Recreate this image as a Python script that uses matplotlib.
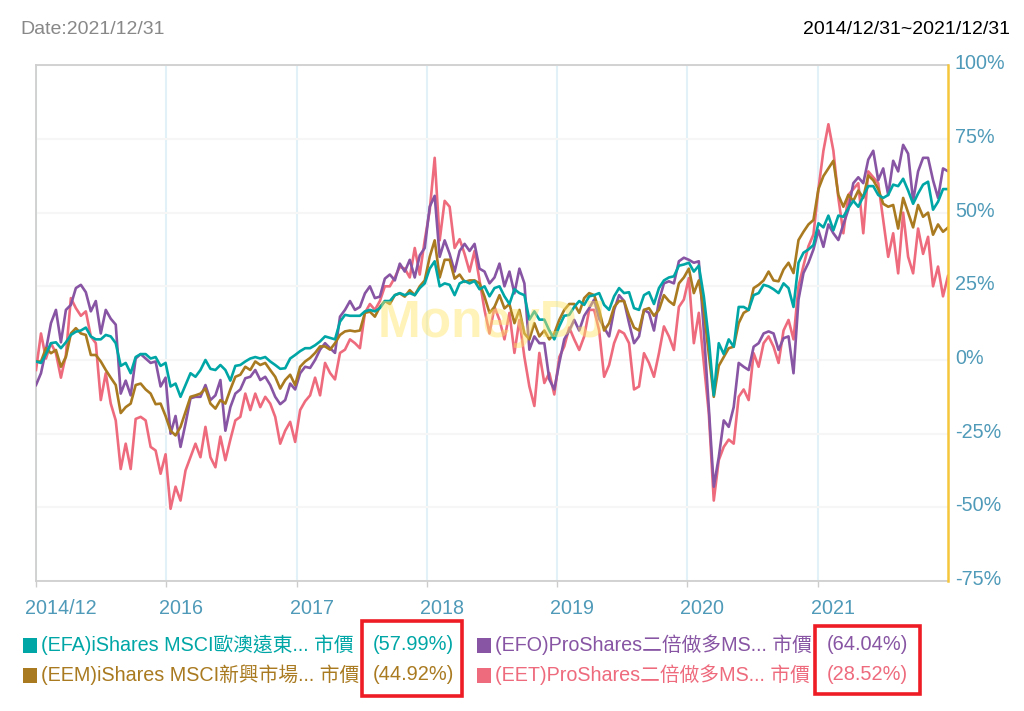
import matplotlib
matplotlib.use("Agg")
import matplotlib.pyplot as plt
from matplotlib import patches
from matplotlib.transforms import ScaledTranslation
import pandas as pd

plt.rcParams['font.family'] = ['Liberation Sans', 'Noto Sans CJK TC', 'DejaVu Sans']

START_DATE = "2014-12-31"
END_DATE = "2021-12-31"

# cumulative return in % at even time steps
efa_values = [
    -0.5, -1, 2, 5.7, 6, 4, 6, 8.5, 9.6, 10, 11, 8, 7, 7, 8.5, 8, 5.7, -2, -1, -4.5,
    1, 2, 2, 0.5, 1, -2, -1, -9, -8, -12.5, -8.5, -4.5, -5.7, -3.4, 0, -3, -3.4, -1.7, -3.4, -7,
    -2, -1.7, -0.5, 0.5, 1, 0.5, 1, -0.5, -1.7, -3, -2.8, 0.5, 1.7, 3, 4,
    4, 5, 6.3, 8, 7.5, 7, 13, 15.3, 15, 15, 15, 16.5, 17, 16.5, 17.6, 20, 20, 22, 22.7, 22,
    22.7, 22, 24.4, 26, 31, 33.5, 25, 26, 25.5, 22, 26, 26.8, 26, 26.8, 24, 25, 21.6, 24.4, 25, 21.6,
    19, 24, 22.7, 22, 13.7, 16.5, 13.7, 13.7, 10, 7, 11.4, 15, 15.3, 18,
    20, 18.7, 21.6, 22, 22.7, 18.7, 17, 21.6, 24.4, 22.7, 23, 17.6, 17, 22, 23, 19, 24.4, 27, 28, 28.4,
    32, 32.4, 33, 30, 32, 21.6, 7, -12, 5.7, 2, 7, 4.5, 18, 18, 17, 22, 22.7, 25.5, 25, 24,
    22.7, 26, 24.4, 18, 33, 36.4, 37.5, 39,
    46.4, 45, 49, 44, 49, 48.6, 51.5, 54, 52, 55.5, 59, 59, 56, 55, 56, 59.5, 59, 61.5, 57.5, 53,
    56.5, 59.5, 60.5, 51, 53.7, 58, 57.99,
]
eem_values = [
    -0.5, -0.5, 4, 2.3, 3.4, -2.3, 1, 9, 10.8, 9, 8.5, 1.7, 1.7, -0.5, -3.4, -6, -8.5, -18, -16, -14.8,
    -8.5, -8, -10, -11.4, -15, -14.8, -19, -24, -25.6, -22.7, -17.6, -12.5, -12, -11.4, -9.7, -14.8, -16.5, -13.6, -14.8, -10,
    -5.7, -5, -2.3, -3.4, -0.5, -1.7, -1, -3.4, -5.7, -9.7, -6.8, -5, -8.5, -2.3, -0.5,
    0.7, 2.4, 4.6, 4.6, 3.5, 5.7, 8.5, 9.7, 10, 9.7, 10, 16, 16.4, 14.7, 18, 20, 19, 22, 22.6, 21.5,
    23.7, 22, 25, 27, 35, 40.6, 28, 34, 34, 27.6, 29, 26.5, 27, 27, 26, 21.5, 16, 18, 22, 17.5,
    19, 12.5, 17, 9, 7, 12.5, 8, 10, 7, 9, 13.6, 17, 19, 19,
    16, 21, 22.7, 22, 17, 10, 12.5, 18, 20, 20, 15, 11, 10, 17, 17.6, 15, 17, 22, 20, 18.7,
    26, 28, 31, 22.7, 27, 17, 2, -12.5, -2, 1, 4, 4.5, 12.5, 16, 17, 24.4, 25.5, 27, 30, 27,
    26.7, 30.7, 33, 29.5, 40.7, 43.5, 46, 47.5,
    58, 62.4, 65, 67.6, 56, 52, 56, 54, 57.5, 55, 62.6, 61, 58, 53, 52, 52.6, 44.6, 55, 50, 45,
    52.6, 48.6, 50, 42.5, 46, 43.5, 44.92,
]
efo_values = [
    -8.5, -4.5, 3.4, 12.5, 17, 6, 17, 18.7, 24.4, 25.5, 23, 16.5, 20, 9, 17, 14, 12, -11.4, -7, -12,
    0.5, 2, 0.5, -1, -0.5, -9, -6, -25, -19, -29.5, -21.6, -13, -12.5, -12.5, -8.5, -13.6, -12, -6.8, -24, -16,
    -11.4, -10, -6.2, -5.7, -3.4, -6.8, -5.7, -8.5, -12.5, -15, -13.6, -8, -10, -4.5, -2.3,
    -2.7, 0, 3.5, 5.7, 4, 2.4, 14.7, 17, 20, 17, 18, 22.6, 25, 21, 21.5, 27.6, 29, 27, 32.7, 30,
    34, 28, 35.5, 38, 52, 55.7, 35, 40.6, 36, 30, 37, 39.4, 37, 39.4, 31, 30, 26, 28, 32.7, 25,
    30, 22.6, 31, 26, 3.5, 8, 5.7, 5.7, -6.6, -10, -1, 7, 10, 13.6,
    10, 15, 17.6, 20.5, 14, 11, 8, 17, 22, 20, 12.5, 5.7, 8, 17, 16, 10, 20, 26, 26.7, 26,
    33.5, 34.7, 34, 33, 33.5, 10, -16, -43, -33, -20.5, -22.7, -16, -1, -2.3, -3.4, 4.5, 5.7, 9, 9.7, 9,
    3.4, 7.4, 8, -4.5, 20.5, 29.5, 33, 37.5,
    44, 38.4, 46, 43, 40.7, 46, 51, 60, 62, 60, 68, 71, 61, 65, 56, 67.6, 64, 73, 70, 54,
    64, 68.6, 68.6, 61, 55, 65, 64.04,
]
eet_values = [
    -3.4, 9, 0.5, 5.7, 2.3, -6, 1.7, 21, 17.6, 15, 16.5, 8, 5.7, -13.6, -4.5, -14.8, -20.5, -37, -28.4, -37,
    -20, -19.3, -20.5, -29.5, -30.7, -38.6, -32, -50.5, -43, -47.7, -37.5, -33, -28.4, -33, -22.7, -33, -36.4, -26, -34, -27,
    -20.5, -19.3, -11.4, -17, -11.4, -16, -12.5, -14.8, -19.3, -28.4, -24, -21, -27.8, -17, -14,
    -12, -6, -12, -1, -4.4, -6.6, 2.4, 3.5, 7, 5.7, 4, 16, 19, 17, 20, 25, 25, 28, 31.6, 31,
    28, 38, 29, 40.6, 50.7, 68.6, 40.6, 54, 52, 38, 41, 36, 30, 37, 27, 17, 9, 18, 13.6, 7,
    16, 2.4, 13.6, 1, -9, -15.6, 2.4, -7.8, -4.4, -11.7, 1, 4.6, 11, 7,
    3.4, 8, 17, 17, 10, -5.7, -1.7, 5.7, 10, 9, 5.7, -10, -9, 2.3, -1, -5.7, 2.3, 11.4, 8, 3.4,
    18, 20.5, 27.8, 5.7, 16, -1, -18, -47.7, -34, -29.5, -27, -28.4, -12.5, -10, -13.6, 2.3, -2.3, 5.7, 8, 4.5,
    -1, 10, 13.6, 7, 25, 32, 38.6, 42.6,
    58, 71, 80, 71, 55, 43, 56, 58, 60, 43, 64, 62, 60, 47.5, 35, 43, 29.4, 50, 35, 29.4,
    44.6, 36, 41.8, 25, 31.7, 21.6, 28.52,
]

series_names = [
    "(EFA)iShares MSCI歐澳遠東... 市價",
    "(EEM)iShares MSCI新興市場... 市價",
    "(EFO)ProShares二倍做多MS... 市價",
    "(EET)ProShares二倍做多MS... 市價",
]
series_returns = ["(57.99%)", "(44.92%)", "(64.04%)", "(28.52%)"]
year_ticks = ["2015-12-31", "2016-12-31", "2017-12-31", "2018-12-31", "2019-12-31", "2020-12-31"]
year_labels = ["2016", "2017", "2018", "2019", "2020", "2021"]
y_ticks = [-75, -50, -25, 0, 25, 50, 75, 100]

TEAL = "#00a6a6"
BROWN = "#a97a20"
PURPLE = "#8755a3"
PINK = "#ee6b7d"
AXIS_TEXT = "#4f9ab8"

W, H = 1024, 711


def px_x(x):
    return x / W


def px_y(y):
    return 1 - y / H


fig = plt.figure(figsize=(W / 100, H / 100), dpi=100)
ax = fig.add_axes([px_x(36), px_y(581), (948 - 36) / W, (581 - 65.3) / H])

# draw order: EFA ends up on top
for values, color in [(eet_values, PINK), (efo_values, PURPLE), (eem_values, BROWN), (efa_values, TEAL)]:
    dates = pd.date_range(START_DATE, END_DATE, periods=len(values))
    ax.plot(dates, values, color=color, lw=1.9, solid_joinstyle="round", zorder=3)

ax.set_xlim(pd.Timestamp(START_DATE), pd.Timestamp(END_DATE))
ax.set_ylim(-75, 100)

# watermark sits over the lines
ax.text(0.5, 0.5, "MoneyDJ", transform=ax.transAxes, ha="center", va="center",
        fontsize=37, fontweight="bold", color="#ffe566", alpha=0.45, zorder=5)

ax.set_yticks(y_ticks)
ax.set_yticklabels([f"{v}%" for v in y_ticks], fontsize=14.2, color=AXIS_TEXT)
ax.yaxis.tick_right()
ax.tick_params(axis="y", length=0, pad=5)
for lbl in ax.get_yticklabels():
    lbl.set_transform(lbl.get_transform() + ScaledTranslation(0, 3.5 / 100, fig.dpi_scale_trans))

ax.set_xticks([pd.Timestamp(START_DATE)] + [pd.Timestamp(d) for d in year_ticks])
ax.set_xticklabels(["2014/12"] + year_labels, fontsize=14.2, color=AXIS_TEXT)
ax.tick_params(axis="x", length=4, width=1, color="#cccccc", pad=9)
for i, lbl in enumerate(ax.get_xticklabels()):
    dx = 25 if i == 0 else 15
    lbl.set_transform(lbl.get_transform() + ScaledTranslation(dx / 100, 0, fig.dpi_scale_trans))

ax.grid(axis="x", color="#e2f1f7", lw=1.5, zorder=1)
ax.grid(axis="y", color="#f6f6f6", lw=1.5, zorder=1)
ax.set_axisbelow(True)

for side in ["left", "bottom", "top"]:
    ax.spines[side].set_color("#cfcfcf")
    ax.spines[side].set_linewidth(1.3)
ax.spines["right"].set_color("#f5c63c")
ax.spines["right"].set_linewidth(1.8)
ax.spines["right"].set_zorder(6)

# header
fig.text(px_x(20), px_y(30), "Date:2021/12/31", fontsize=14, color="#888888", va="center")
fig.text(px_x(1010), px_y(30), "2014/12/31~2021/12/31", fontsize=14, color="black", va="center", ha="right")

# legend, two columns by two rows
legend_rows = [
    (23, 41, 373, 645, 0, TEAL),
    (23, 41, 373, 675, 1, BROWN),
    (477, 495, 827, 645, 2, PURPLE),
    (477, 495, 827, 675, 3, PINK),
]
for box_x, text_x, pct_x, row_y, idx, color in legend_rows:
    fig.add_artist(patches.Rectangle((px_x(box_x), px_y(row_y + 7.5)), 14 / W, 15 / H,
                                     transform=fig.transFigure, facecolor=color, edgecolor="none"))
    fig.text(px_x(text_x), px_y(row_y), series_names[idx], fontsize=14.2, color=color, va="center")
    fig.text(px_x(pct_x), px_y(row_y), series_returns[idx], fontsize=14.4, color=color, va="center")

# red highlight boxes
for x0, y0, x1, y1 in [(362, 621, 462, 696), (815, 626, 920, 694)]:
    fig.add_artist(patches.Rectangle((px_x(x0), px_y(y1)), (x1 - x0) / W, (y1 - y0) / H,
                                     transform=fig.transFigure, facecolor="none",
                                     edgecolor="#ee1c25", lw=2.6))

fig.savefig("out.png", dpi=100)
